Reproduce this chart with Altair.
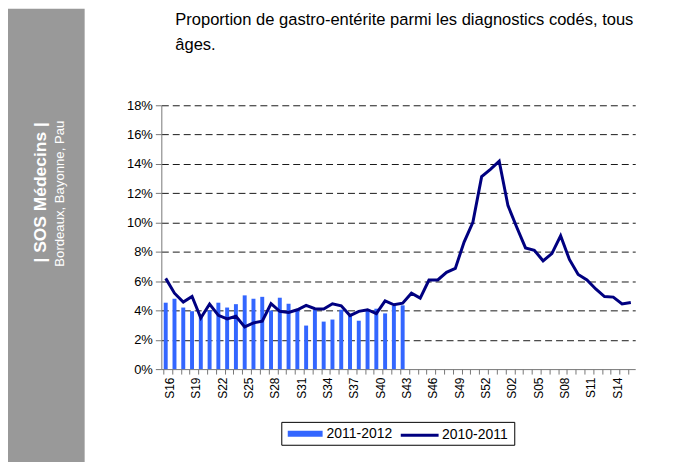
import json
import altair as alt
import pandas as pd

# ---- data ----
weeks = ["S16", "S17", "S18", "S19", "S20", "S21", "S22", "S23", "S24", "S25",
         "S26", "S27", "S28", "S29", "S30", "S31", "S32", "S33", "S34", "S35",
         "S36", "S37", "S38", "S39", "S40", "S41", "S42", "S43", "S44", "S45",
         "S46", "S47", "S48", "S49", "S50", "S51", "S52", "S53", "S01", "S02",
         "S03", "S04", "S05", "S06", "S07", "S08", "S09", "S10", "S11", "S12",
         "S13", "S14", "S15", "S16"]

season_2011_2012 = [4.53, 4.80, 4.20, 3.95, 3.70, 4.00, 4.53, 4.20, 4.43, 5.03,
                    4.80, 4.93, 4.00, 4.87, 4.46, 4.05, 2.97, 4.05, 3.24, 3.38,
                    4.05, 3.78, 3.30, 4.00, 4.12, 3.80, 4.32, 4.35]

season_2010_2011 = [6.19, 5.18, 4.57, 4.95, 3.49, 4.44, 3.67, 3.42, 3.60, 2.88,
                    3.15, 3.27, 4.46, 3.94, 3.87, 4.05, 4.35, 4.12, 4.10, 4.46,
                    4.32, 3.65, 3.94, 4.05, 3.78, 4.66, 4.39, 4.50, 5.18, 4.84,
                    6.08, 6.08, 6.60, 6.87, 8.67, 10.02, 13.13, 13.63, 14.19, 11.15,
                    9.68, 8.27, 8.11, 7.39, 7.88, 9.10, 7.48, 6.46, 6.08, 5.47,
                    4.95, 4.91, 4.44, 4.55]

y_ticks = [0, 2, 4, 6, 8, 10, 12, 14, 16, 18]

title_lines = ["Proportion de gastro-entérite parmi les diagnostics codés, tous",
               "âges."]
band_title = "| SOS Médecins |"
band_sub = "Bordeaux, Bayonne, Pau"
label_bars = "2011-2012"
label_line = "2010-2011"

FONT = "Liberation Sans"
BAR_COLOR = "#3366ff"
LINE_COLOR = "#000080"

bars_df = pd.DataFrame({
    "i": list(range(len(season_2011_2012))),
    "val": season_2011_2012,
    "saisonA": [label_bars] * len(season_2011_2012),
})
line_df = pd.DataFrame({
    "i": list(range(len(season_2010_2011))),
    "val": season_2010_2011,
    "saisonB": [label_line] * len(season_2010_2011),
})
one = pd.DataFrame({"a": [1]})

label_expr = "datum.value % 3 === 0 ? " + json.dumps(weeks) + "[datum.value] : ''"

x_enc = alt.X(
    "i:O",
    title=None,
    scale=alt.Scale(paddingInner=0.55, paddingOuter=0.275),
    axis=alt.Axis(
        labelExpr=label_expr, labelAngle=270, labelAlign="right",
        labelBaseline="middle", labelFont=FONT, labelFontSize=12,
        labelColor="#000", labelPadding=3, labelOverlap=False,
        bandPosition=0, labelOffset=4.4,
        tickColor="#777", tickSize=5, domainColor="#777", grid=False,
    ),
)
y_enc = alt.Y(
    "val:Q",
    title=None,
    scale=alt.Scale(domain=[0, 18], nice=False),
    axis=alt.Axis(
        values=y_ticks, labelExpr="datum.value + '%'", labelFont=FONT,
        labelFontSize=13, labelColor="#000", labelPadding=3,
        tickColor="#777", tickSize=6, domainColor="#777",
        grid=True, gridDash=[7, 4], gridColor="#000", gridWidth=1,
        gridOpacity={"condition": {"test": "datum.value === 0", "value": 0}, "value": 0.9},
    ),
)

band = alt.Chart(one).mark_rect(color="#999999").encode(
    x=alt.value(-154), x2=alt.value(-77), y=alt.value(-97), y2=alt.value(362)
)
band_t1 = alt.Chart(one).mark_text(
    angle=270, align="right", baseline="middle", font=FONT, fontSize=17.5,
    fontWeight="bold", color="white"
).encode(x=alt.value(-121), y=alt.value(17), text=alt.value(band_title))
band_t2 = alt.Chart(one).mark_text(
    angle=270, align="right", baseline="middle", font=FONT, fontSize=13.2,
    color="white"
).encode(x=alt.value(-102), y=alt.value(15.5), text=alt.value(band_sub))

title1 = alt.Chart(one).mark_text(
    align="left", baseline="alphabetic", font=FONT, fontSize=16.6, color="#000"
).encode(x=alt.value(14), y=alt.value(-81), text=alt.value(title_lines[0]))
title2 = alt.Chart(one).mark_text(
    align="left", baseline="alphabetic", font=FONT, fontSize=16.6, color="#000"
).encode(x=alt.value(14), y=alt.value(-56), text=alt.value(title_lines[1]))

legend_box = alt.Chart(one).mark_rect(
    fill="white", stroke="#000", strokeWidth=1
).encode(x=alt.value(121), x2=alt.value(355), y=alt.value(318.5), y2=alt.value(341.5))

bars = alt.Chart(bars_df).mark_bar().encode(
    x=x_enc, y=y_enc,
    fill=alt.Fill(
        "saisonA:N",
        scale=alt.Scale(domain=[label_bars], range=[BAR_COLOR]),
        legend=alt.Legend(
            title=None, orient="none", legendX=127, legendY=312.5, padding=0,
            symbolType="M-1,-0.17H1V0.17H-1Z", symbolSize=1225,
            symbolStrokeWidth=0, labelFont=FONT, labelFontSize=14,
            labelColor="#000", labelOffset=4,
        ),
    ),
)
line = alt.Chart(line_df).mark_line(strokeWidth=3).encode(
    x=x_enc, y=y_enc,
    stroke=alt.Stroke(
        "saisonB:N",
        scale=alt.Scale(domain=[label_line], range=[LINE_COLOR]),
        legend=alt.Legend(
            title=None, orient="none", legendX=239, legendY=311, padding=0,
            symbolType="stroke", symbolSize=1444, symbolStrokeWidth=3,
            labelFont=FONT, labelFontSize=14, labelColor="#000", labelOffset=2,
        ),
    ),
)

chart = alt.layer(
    band, band_t1, band_t2, title1, title2, legend_box, bars, line
).resolve_scale(
    fill="independent", stroke="independent"
).properties(
    width=476, height=265,
    padding={"left": 154, "top": 96.7, "right": 50, "bottom": 92},
    autosize=alt.AutoSizeParams(type="none"),
).configure_view(stroke=None)

chart.save("out.html", embed_options={"renderer": "svg", "actions": False})
